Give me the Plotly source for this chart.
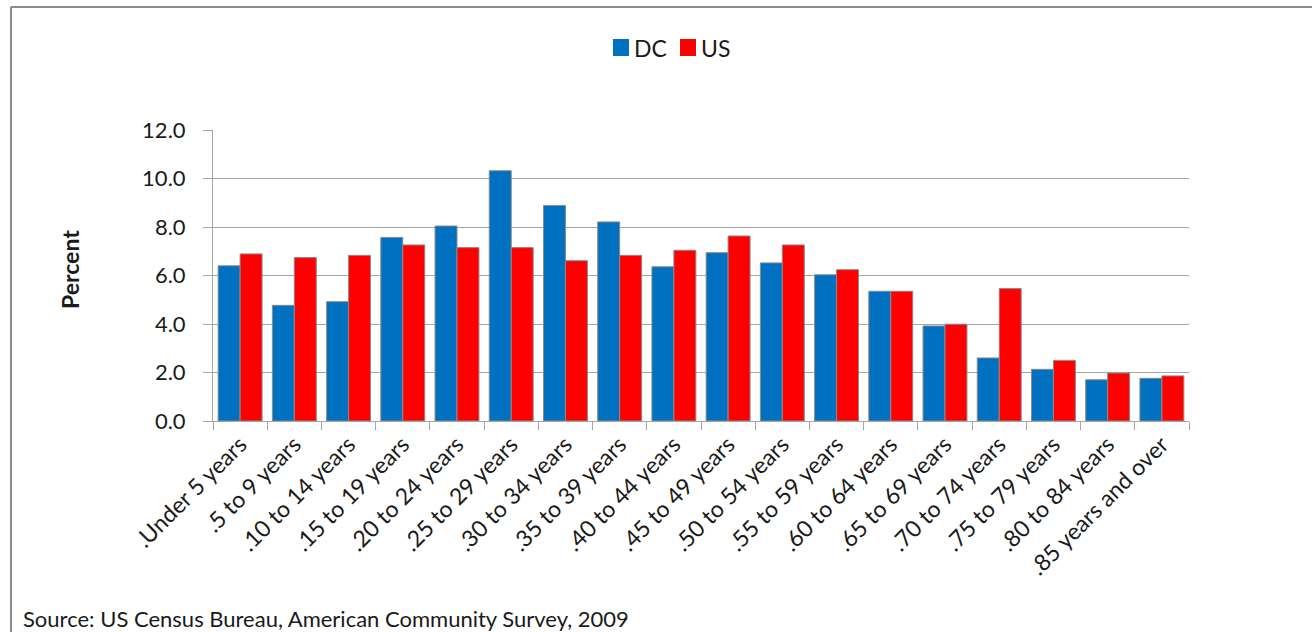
import plotly.graph_objects as go

# Age groups and population share (percent) for DC and the US
age_groups = [
    ".Under 5 years", ".5 to 9 years", ".10 to 14 years", ".15 to 19 years",
    ".20 to 24 years", ".25 to 29 years", ".30 to 34 years", ".35 to 39 years",
    ".40 to 44 years", ".45 to 49 years", ".50 to 54 years", ".55 to 59 years",
    ".60 to 64 years", ".65 to 69 years", ".70 to 74 years", ".75 to 79 years",
    ".80 to 84 years", ".85 years and over",
]
dc_pct = [6.40, 4.77, 4.92, 7.57, 8.04, 10.32, 8.89, 8.21, 6.36,
          6.94, 6.52, 6.03, 5.35, 3.92, 2.60, 2.13, 1.70, 1.76]
us_pct = [6.89, 6.74, 6.83, 7.26, 7.15, 7.15, 6.61, 6.83, 7.04,
          7.63, 7.26, 6.24, 5.35, 3.99, 5.46, 2.50, 1.98, 1.86]
y_ticks = [0, 2, 4, 6, 8, 10, 12]

W, H = 1312, 632
ML, MR, MT, MB = 213, 123, 130, 211
PW, PH = W - ML - MR, H - MT - MB

FONT = "Lato"
BLUE = "#0070C0"
RED = "#FF0000"
GRID = "#a6a6a6"


def px_x(px):
    return (px - ML) / PW


def px_y(py):
    return 1 - (py - MT) / PH


fig = go.Figure()
fig.add_trace(go.Bar(x=age_groups, y=dc_pct, name="DC", marker_color=BLUE,
                     marker_line=dict(color="#8a8a8a", width=1)))
fig.add_trace(go.Bar(x=age_groups, y=us_pct, name="US", marker_color=RED,
                     marker_line=dict(color="#8a8a8a", width=1)))

fig.update_layout(
    width=W, height=H,
    margin=dict(l=ML, r=MR, t=MT, b=MB, pad=0),
    paper_bgcolor="white", plot_bgcolor="white",
    barmode="group", bargap=0.19, bargroupgap=0,
    showlegend=False,
    font=dict(family=FONT, size=22, color="#1a1a1a"),
)

fig.update_xaxes(
    type="category", tickson="boundaries", tickangle=-45,
    ticks="outside", ticklen=8, tickcolor=GRID,
    showline=True, linecolor=GRID, linewidth=1,
    showgrid=False, tickfont=dict(size=23),
)
fig.update_yaxes(
    range=[0, 12], tickvals=y_ticks, tickformat=".1f",
    ticks="outside", ticklen=9, tickcolor=GRID,
    showline=True, linecolor=GRID, linewidth=1,
    showgrid=True, gridcolor=GRID, gridwidth=1, zeroline=False,
    ticklabelstandoff=13, tickfont=dict(size=22),
)

# Y axis title
fig.add_annotation(text="<b>Percent</b>", textangle=-90, showarrow=False,
                   xref="paper", yref="paper", x=px_x(70), y=px_y(270),
                   xanchor="center", yanchor="middle", font=dict(size=23))

# Legend: coloured squares with labels
for sx, colour, label, tx in [(613, BLUE, "DC", 632), (680, RED, "US", 699)]:
    fig.add_shape(type="rect", xref="paper", yref="paper",
                  x0=px_x(sx), x1=px_x(sx + 16), y0=px_y(56), y1=px_y(39),
                  fillcolor=colour, line=dict(width=0))
    fig.add_annotation(text=label, showarrow=False, xref="paper", yref="paper",
                       x=px_x(tx), y=px_y(47.5), xanchor="left", yanchor="middle",
                       font=dict(size=23))

# Source note
fig.add_annotation(text="Source: US Census Bureau, American Community Survey, 2009",
                   showarrow=False, xref="paper", yref="paper",
                   x=px_x(21), y=px_y(618), xanchor="left", yanchor="middle",
                   font=dict(size=22))

# Outer frame (top and left edges)
fig.add_shape(type="line", xref="paper", yref="paper",
              x0=px_x(11), x1=px_x(W + 5), y0=px_y(7), y1=px_y(7),
              line=dict(color="#8c8c8c", width=2))
fig.add_shape(type="line", xref="paper", yref="paper",
              x0=px_x(11), x1=px_x(11), y0=px_y(7), y1=px_y(H + 5),
              line=dict(color="#8c8c8c", width=2))

fig.write_html("out.html")
